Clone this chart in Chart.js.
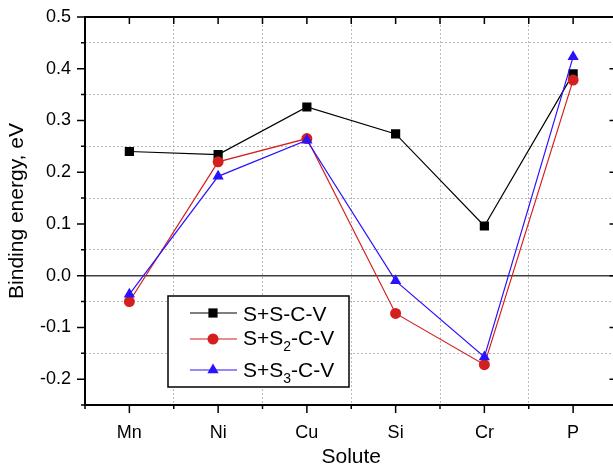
<!DOCTYPE html>
<html>
<head>
<meta charset="utf-8">
<script src="https://cdn.jsdelivr.net/npm/chart.js@4/dist/chart.umd.min.js"></script>
<style>
  html, body { margin: 0; padding: 0; background: #fff; overflow: hidden; width: 613px; height: 468px; }
  canvas { display: block; }
</style>
</head>
<body>
<canvas id="myChart" width="624" height="468"></canvas>
<script>
var solutes = ['Mn', 'Ni', 'Cu', 'Si', 'Cr', 'P'];
var sscv  = [0.240, 0.234, 0.326, 0.274, 0.096, 0.390];
var ss2cv = [-0.050, 0.220, 0.265, -0.073, -0.172, 0.378];
var ss3cv = [-0.036, 0.192, 0.262, -0.010, -0.157, 0.423];

var FONT = "'Liberation Sans', Arial, sans-serif";
var RED = '#d41f1f';
var BLUE = '#2a12ff';

function isMajor(v) {
  return Math.abs(Math.round(v * 100)) % 10 === 0;
}

// axes frame, ticks on all four sides, zero line
var framePlugin = {
  id: 'frame',
  beforeDatasetsDraw: function(chart) {
    var ctx = chart.ctx, a = chart.chartArea;
    var x = chart.scales.x, y = chart.scales.y;
    ctx.save();
    // zero line
    var y0 = y.getPixelForValue(0);
    ctx.strokeStyle = '#404040';
    ctx.lineWidth = 1.5;
    ctx.beginPath();
    ctx.moveTo(a.left, y0);
    ctx.lineTo(a.right, y0);
    ctx.stroke();

    ctx.strokeStyle = '#000';
    ctx.lineWidth = 1.5;
    ctx.beginPath();
    // y ticks
    y.ticks.forEach(function(t) {
      var py = y.getPixelForValue(t.value);
      var len = isMajor(t.value) ? 8 : 4;
      ctx.moveTo(a.left, py); ctx.lineTo(a.left - len, py);
      ctx.moveTo(a.right, py); ctx.lineTo(a.right - len, py);
    });
    // x ticks at categories and between them
    for (var i = 0; i < solutes.length; i++) {
      var px = x.getPixelForValue(i);
      ctx.moveTo(px, a.bottom); ctx.lineTo(px, a.bottom + 8);
      ctx.moveTo(px, a.top); ctx.lineTo(px, a.top + 7);
    }
    for (var j = 0; j <= solutes.length; j++) {
      var pm = x.getPixelForValue(j - 0.5);
      ctx.moveTo(pm, a.bottom); ctx.lineTo(pm, a.bottom + 4);
      ctx.moveTo(pm, a.top); ctx.lineTo(pm, a.top + 7);
    }
    ctx.stroke();

    ctx.lineWidth = 2;
    ctx.strokeRect(a.left, a.top, a.right - a.left, a.bottom - a.top);
    ctx.restore();
  }
};

function drawMarker(ctx, style, cx, cy, color) {
  ctx.fillStyle = color;
  ctx.beginPath();
  if (style === 'rect') {
    ctx.rect(cx - 4.6, cy - 4.6, 9.2, 9.2);
  } else if (style === 'circle') {
    ctx.arc(cx, cy, 5.5, 0, Math.PI * 2);
  } else {
    var r = 6.5;
    ctx.moveTo(cx, cy - r);
    ctx.lineTo(cx + r * Math.sin(Math.PI / 3), cy + r / 2);
    ctx.lineTo(cx - r * Math.sin(Math.PI / 3), cy + r / 2);
    ctx.closePath();
  }
  ctx.fill();
}

// boxed legend with subscripts
var legendPlugin = {
  id: 'boxLegend',
  afterDraw: function(chart) {
    var ctx = chart.ctx;
    var bx = 168, by = 296, bw = 181, bh = 91;
    ctx.save();
    ctx.fillStyle = '#fff';
    ctx.fillRect(bx, by, bw, bh);
    ctx.strokeStyle = '#000';
    ctx.lineWidth = 1.5;
    ctx.strokeRect(bx, by, bw, bh);

    var rows = [
      { color: '#000', style: 'rect', y: 313, base: 320.5, sub: null },
      { color: RED, style: 'circle', y: 339, base: 345, sub: '2' },
      { color: BLUE, style: 'triangle', y: 370, base: 377, sub: '3' }
    ];
    rows.forEach(function(r) {
      ctx.strokeStyle = r.color;
      ctx.lineWidth = 1.2;
      ctx.beginPath();
      ctx.moveTo(190, r.y);
      ctx.lineTo(237, r.y);
      ctx.stroke();
      drawMarker(ctx, r.style, 213, r.y, r.color);

      ctx.fillStyle = '#000';
      ctx.textBaseline = 'alphabetic';
      ctx.textAlign = 'left';
      ctx.font = '21px ' + FONT;
      var tx = 243;
      if (!r.sub) {
        ctx.fillText('S+S-C-V', tx, r.base);
      } else {
        ctx.fillText('S+S', tx, r.base);
        tx += ctx.measureText('S+S').width;
        ctx.font = '14px ' + FONT;
        ctx.fillText(r.sub, tx, r.base + 6);
        tx += ctx.measureText(r.sub).width;
        ctx.font = '21px ' + FONT;
        ctx.fillText('-C-V', tx, r.base);
      }
    });
    ctx.restore();
  }
};

var ctx = document.getElementById('myChart').getContext('2d');

var myChart = new Chart(ctx, {
  type: 'line',
  data: {
    labels: solutes,
    datasets: [
      {
        label: 'S+S-C-V',
        data: sscv,
        borderColor: '#000',
        backgroundColor: '#000',
        borderWidth: 1.2,
        pointStyle: 'rect',
        pointRadius: 6.5,
        pointBorderWidth: 0,
        order: 3
      },
      {
        label: 'S+S2-C-V',
        data: ss2cv,
        borderColor: RED,
        backgroundColor: RED,
        borderWidth: 1.2,
        pointStyle: 'circle',
        pointRadius: 5.5,
        pointBorderWidth: 0,
        order: 2
      },
      {
        label: 'S+S3-C-V',
        data: ss3cv,
        borderColor: BLUE,
        backgroundColor: BLUE,
        borderWidth: 1.2,
        pointStyle: 'triangle',
        pointRadius: 6.5,
        pointBorderWidth: 0,
        order: 1
      }
    ]
  },
  options: {
    responsive: false,
    animation: false,
    devicePixelRatio: 1,
    layout: { padding: { left: 0, top: 17, right: 1, bottom: 0 } },
    plugins: {
      legend: { display: false },
      tooltip: { enabled: false }
    },
    scales: {
      x: {
        offset: true,
        grid: {
          offset: true,
          drawTicks: false,
          color: '#b8b8b8',
          lineWidth: 1
        },
        border: { display: false, dash: [2, 2] },
        ticks: {
          color: '#000',
          font: { family: FONT, size: 18 },
          padding: 17,
          maxRotation: 0
        },
        title: {
          display: true,
          text: 'Solute',
          color: '#000',
          font: { family: FONT, size: 21 },
          padding: { top: 0, bottom: -2 }
        },
        afterFit: function(scale) {
          scale.height = 63;
          scale.paddingLeft = 0;
          scale.paddingRight = 0;
        }
      },
      y: {
        min: -0.25,
        max: 0.5,
        grid: {
          drawTicks: false,
          lineWidth: 1,
          color: function(c) {
            if (!c.tick) return 'rgba(0,0,0,0)';
            return isMajor(c.tick.value) ? 'rgba(0,0,0,0)' : '#b8b8b8';
          }
        },
        border: { display: false, dash: [2, 2] },
        ticks: {
          stepSize: 0.05,
          autoSkip: false,
          color: '#000',
          font: { family: FONT, size: 18 },
          padding: 14,
          callback: function(v) {
            return isMajor(v) ? (Math.round(v * 10) / 10).toFixed(1) : '';
          }
        },
        title: {
          display: true,
          text: 'Binding energy, eV',
          color: '#000',
          font: { family: FONT, size: 21 },
          padding: { top: 5, bottom: 0 }
        },
        afterFit: function(scale) {
          scale.width = 85;
          scale.paddingTop = 0;
          scale.paddingBottom = 0;
        }
      }
    }
  },
  plugins: [framePlugin, legendPlugin]
});
</script>
</body>
</html>
